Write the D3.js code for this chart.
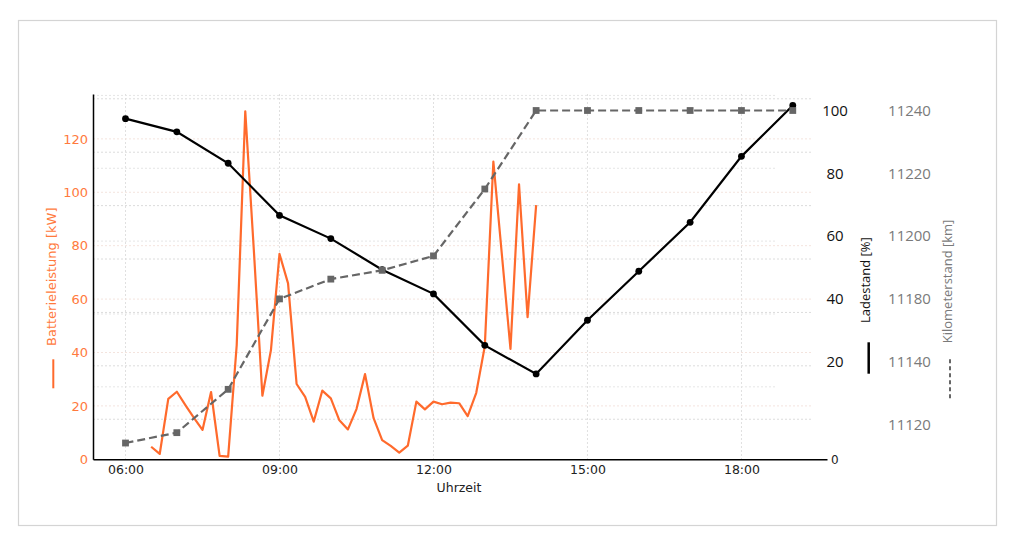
<!DOCTYPE html>
<html>
<head>
<meta charset="utf-8">
<script src="https://cdn.jsdelivr.net/npm/d3@7"></script>
<style>
    body { margin: 0; background: #fff; }
</style>
</head>
<body>
<div id="chart"></div>
<script>
// hourly series
const hours = ["06:00", "07:00", "08:00", "09:00", "10:00", "11:00", "12:00",
    "13:00", "14:00", "15:00", "16:00", "17:00", "18:00", "19:00"];
const ladestand = [97.4, 93.2, 83.2, 66.6, 59.2, 49.3, 41.6, 25.2, 16.1, 33.2, 48.8, 64.4, 85.4, 101.6];
const kilometerstand = [11134.1, 11137.4, 11151.2, 11180.0, 11186.3, 11189.1, 11193.7,
    11215.0, 11240, 11240, 11240, 11240, 11240, 11240];

// 10 minute series
const leistungTimes = ["06:30", "06:40", "06:50",
    "07:00", "07:10", "07:20", "07:30", "07:40", "07:50",
    "08:00", "08:10", "08:20", "08:30", "08:40", "08:50",
    "09:00", "09:10", "09:20", "09:30", "09:40", "09:50",
    "10:00", "10:10", "10:20", "10:30", "10:40", "10:50",
    "11:00", "11:10", "11:20", "11:30", "11:40", "11:50",
    "12:00", "12:10", "12:20", "12:30", "12:40", "12:50",
    "13:00", "13:10", "13:20", "13:30", "13:40", "13:50", "14:00"];
const leistung = [4.7, 2.0, 22.6,
    25.3, 20.3, 15.5, 11.0, 25.2, 1.3,
    1.0, 42.8, 130.3, 78.4, 23.8, 40.9,
    76.9, 65.9, 28.2, 23.4, 14.1, 25.7,
    22.8, 14.6, 11.2, 18.8, 31.9, 15.4,
    7.2, 5.0, 2.5, 5.1, 21.6, 18.7,
    21.6, 20.6, 21.2, 21.0, 16.2, 24.9,
    42.4, 111.5, 76.5, 41.3, 103.0, 53.2, 95.2];

// ticks
const xTicks = ["06:00", "09:00", "12:00", "15:00", "18:00"];
const kwTicks = [0, 20, 40, 60, 80, 100, 120];
const kwMinorGrid = [15, 35, 55, 75, 95, 115, 135];
const ladeTicks = [20, 40, 60, 80, 100];
const ladeGrid = [12, 35.2, 58.4, 81.6, 104.8];
const kmTicks = [11240, 11220, 11200, 11180, 11160, 11140];
const kmTickLabels = ["11240", "11220", "11200", "11180", "11140", "11120"];

const ORANGE = "#ff6a2c";
const ORANGE_TXT = "#ff7a3d";
const GREY = "#666666";
const GREY_TXT = "#7a7a7a";

const parseT = d3.timeParse("%H:%M");

const W = 1024, H = 537;
const plot = { left: 93, right: 827, top: 94, bottom: 459.3, gridRight: 812 };

const svg = d3.select("#chart")
    .append("svg")
    .attr("width", W)
    .attr("height", H)
    .style("font-family", "'DejaVu Sans', sans-serif");

// card border
svg.append("rect")
    .attr("x", 18.5)
    .attr("y", 20.5)
    .attr("width", 978)
    .attr("height", 505)
    .style("fill", "none")
    .style("stroke", "#d4d4d4")
    .style("stroke-width", 1.2);

// scales
const x = d3.scaleTime()
    .domain([parseT("05:22"), parseT("19:40")])
    .range([plot.left, plot.right]);
const yKw = d3.scaleLinear().domain([0, 136.8]).range([plot.bottom, plot.top]);
const yLade = d3.scaleLinear().domain([0, 100]).range([424.5, 110.5]);
const yKm = d3.scaleLinear().domain([11140, 11240]).range([424.5, 110.5]);

// grid
let grid = svg.append("g").attr("class", "grid");
grid.selectAll(".vgrid")
    .data(xTicks)
    .enter().append("line")
    .attr("x1", d => x(parseT(d))).attr("x2", d => x(parseT(d)))
    .attr("y1", plot.top).attr("y2", plot.bottom)
    .style("stroke", "#e0e0e0").style("stroke-dasharray", "2,2").style("stroke-width", 1);
grid.selectAll(".kwgrid")
    .data(kwTicks.filter(d => d > 0))
    .enter().append("line")
    .attr("x1", plot.left).attr("x2", plot.gridRight)
    .attr("y1", d => yKw(d)).attr("y2", d => yKw(d))
    .style("stroke", "#f4e4de").style("stroke-dasharray", "2,2").style("stroke-width", 1);
grid.selectAll(".kwgrid2")
    .data(kwMinorGrid)
    .enter().append("line")
    .attr("x1", plot.left).attr("x2", plot.gridRight)
    .attr("y1", d => yKw(d)).attr("y2", d => yKw(d))
    .style("stroke", "#dcdcdc").style("stroke-dasharray", "2,2").style("stroke-width", 1);
grid.selectAll(".ladegrid")
    .data(ladeGrid)
    .enter().append("line")
    .attr("x1", plot.left).attr("x2", 777)
    .attr("y1", d => yLade(d)).attr("y2", d => yLade(d))
    .style("stroke", "#e6e6e6").style("stroke-dasharray", "2,2").style("stroke-width", 1);

// orange battery power
svg.append("path")
    .datum(leistungTimes.map((t, i) => ({ t: parseT(t), v: leistung[i] })))
    .attr("d", d3.line().x(d => x(d.t)).y(d => yKw(d.v)))
    .style("fill", "none")
    .style("stroke", ORANGE)
    .style("stroke-width", 2.2)
    .style("stroke-linejoin", "round");

// black state of charge
let soc = hours.map((t, i) => ({ t: parseT(t), v: ladestand[i] }));
svg.append("path")
    .datum(soc)
    .attr("d", d3.line().x(d => x(d.t)).y(d => yLade(d.v)))
    .style("fill", "none")
    .style("stroke", "#000")
    .style("stroke-width", 2.2);
svg.selectAll(".soc-dot")
    .data(soc)
    .enter().append("circle")
    .attr("cx", d => x(d.t))
    .attr("cy", d => yLade(d.v))
    .attr("r", 3.4)
    .style("fill", "#000");

// grey odometer
let km = hours.map((t, i) => ({ t: parseT(t), v: kilometerstand[i] }));
svg.append("path")
    .datum(km)
    .attr("d", d3.line().x(d => x(d.t)).y(d => yKm(d.v)))
    .style("fill", "none")
    .style("stroke", GREY)
    .style("stroke-width", 2.2)
    .style("stroke-dasharray", "8,4");
svg.selectAll(".km-sq")
    .data(km)
    .enter().append("rect")
    .attr("x", d => x(d.t) - 3.4)
    .attr("y", d => yKm(d.v) - 3.4)
    .attr("width", 6.8)
    .attr("height", 6.8)
    .style("fill", GREY);

// axes
let gx = svg.append("g")
    .attr("transform", "translate(0," + plot.bottom + ")")
    .call(d3.axisBottom(x)
        .tickValues(xTicks.map(parseT))
        .tickFormat(d3.timeFormat("%H:%M"))
        .tickSize(0).tickSizeOuter(0).tickPadding(6));
gx.select(".domain").style("stroke", "#000").style("stroke-width", 1.5);
gx.selectAll("text").style("font-size", "12.5px").style("fill", "#222").style("font-family", "'DejaVu Sans'");

let gy = svg.append("g")
    .attr("transform", "translate(" + plot.left + ",0)")
    .call(d3.axisLeft(yKw).tickValues(kwTicks).tickSize(0).tickSizeOuter(0).tickPadding(5));
gy.select(".domain").style("stroke", "#000").style("stroke-width", 1.5);
gy.selectAll("text").style("font-size", "13px").style("fill", ORANGE_TXT).style("font-family", "'DejaVu Sans'");

let gl = svg.append("g")
    .attr("transform", "translate(835,0)")
    .call(d3.axisRight(yLade).tickValues(ladeTicks).tickSize(0).tickPadding(0));
gl.select(".domain").remove();
gl.selectAll("text")
    .attr("text-anchor", "middle")
    .style("font-size", "15px").style("fill", "#111").style("font-family", "'Open Sans'");

let gk = svg.append("g")
    .attr("transform", "translate(909.5,0)")
    .call(d3.axisRight(yKm).tickValues(kmTicks).tickFormat((d, i) => kmTickLabels[i]).tickSize(0).tickPadding(0));
gk.select(".domain").remove();
gk.selectAll("text")
    .attr("text-anchor", "middle")
    .style("font-size", "15px").style("fill", GREY_TXT).style("font-family", "'Open Sans'");

svg.append("text")
    .attr("x", 831)
    .attr("y", plot.bottom)
    .attr("dy", "0.35em")
    .style("font-size", "12px")
    .style("fill", "#222")
    .text("0");

// axis titles with legend swatches
svg.append("text")
    .attr("x", 459)
    .attr("y", 492)
    .attr("text-anchor", "middle")
    .style("font-size", "12.5px")
    .style("fill", "#222")
    .text("Uhrzeit");

svg.append("text")
    .attr("transform", "translate(51.7,346) rotate(-90)")
    .attr("dy", "0.35em")
    .style("font-size", "13px")
    .style("fill", ORANGE_TXT)
    .text("Batterieleistung [kW]");
svg.append("line")
    .attr("x1", 53.3).attr("x2", 53.3).attr("y1", 359.3).attr("y2", 388.3)
    .style("stroke", ORANGE).style("stroke-width", 2);

svg.append("text")
    .attr("transform", "translate(865,323) rotate(-90)")
    .attr("dy", "0.35em")
    .style("font-size", "13px")
    .style("font-family", "'Open Sans'")
    .style("fill", "#111")
    .text("Ladestand [%]");
svg.append("line")
    .attr("x1", 868.7).attr("x2", 868.7).attr("y1", 342.3).attr("y2", 373.7)
    .style("stroke", "#000").style("stroke-width", 2.5);

svg.append("text")
    .attr("transform", "translate(947.7,343.3) rotate(-90)")
    .attr("dy", "0.35em")
    .style("font-size", "13px")
    .style("font-family", "'Open Sans'")
    .style("fill", GREY_TXT)
    .text("Kilometerstand [km]");
svg.append("line")
    .attr("x1", 950).attr("x2", 950).attr("y1", 359.3).attr("y2", 398.3)
    .style("stroke", GREY).style("stroke-width", 2).style("stroke-dasharray", "4,3");
</script>
</body>
</html>
